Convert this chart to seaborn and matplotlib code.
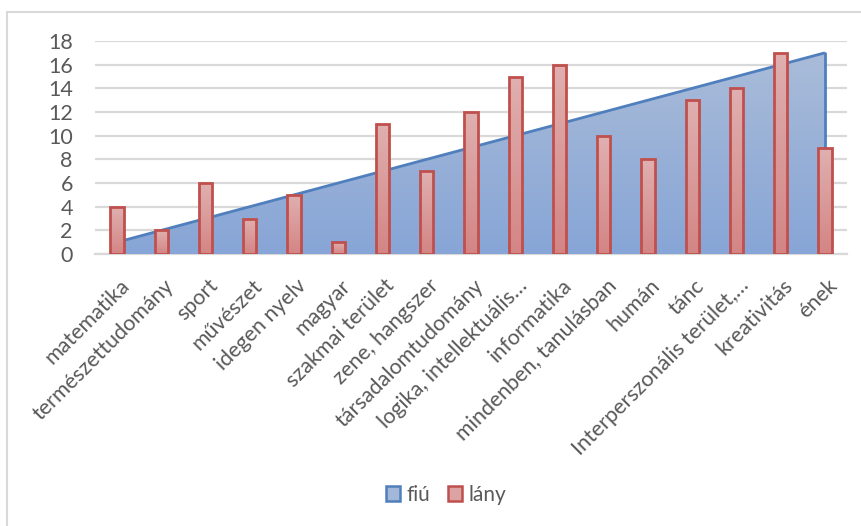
import matplotlib
matplotlib.use("Agg")
import matplotlib.pyplot as plt
import matplotlib.transforms as mtransforms
from matplotlib.patches import Rectangle, Patch
from matplotlib.colors import LinearSegmentedColormap
import numpy as np
import pandas as pd
import seaborn as sns

categories = [
    "matematika", "természettudomány", "sport", "művészet", "idegen nyelv",
    "magyar", "szakmai terület", "zene, hangszer", "társadalomtudomány",
    "logika, intellektuális…", "informatika", "mindenben, tanulásban",
    "humán", "tánc", "Interperszonális terület,…", "kreativitás", "ének",
]
fiu = [1, 2, 3, 4, 5, 6, 7, 8, 9, 10, 11, 12, 13, 14, 15, 16, 17]
lany = [4, 2, 6, 3, 5, 1, 11, 7, 12, 15, 16, 10, 8, 13, 14, 17, 9]
y_ticks = [0, 2, 4, 6, 8, 10, 12, 14, 16, 18]

df = pd.DataFrame({"terület": categories, "fiú": fiu, "lány": lany})

sns.set_theme(style="white")
plt.rcParams["font.family"] = ["Lato", "DejaVu Sans"]

TEXT = "#595959"
GRID = "#d9d9d9"
BLUE_EDGE = "#4f7fbd"
RED_EDGE = "#c0504d"

fig = plt.figure(figsize=(8.62, 5.26), dpi=100)
W, H = 862, 526
ax = fig.add_axes([95 / W, 1 - 254 / H, (847 - 95) / W, (254 - 41) / H])

x = np.arange(len(categories))

# area series (fiú) with a vertical gradient fill
area = ax.fill_between(x, df["fiú"], 0, color="none", zorder=2)
grad_blue = LinearSegmentedColormap.from_list("b", ["#87a5d6", "#abbdd9"])
img = ax.imshow(np.linspace(0, 1, 256).reshape(-1, 1), cmap=grad_blue,
                extent=[x[0], x[-1], 0, 18], origin="lower", aspect="auto",
                zorder=2, interpolation="bilinear")
img.set_clip_path(area.get_paths()[0], transform=ax.transData)
ax.plot(x, df["fiú"], color=BLUE_EDGE, lw=2, zorder=3, solid_capstyle="butt")
ax.plot([x[-1], x[-1]], [0, fiu[-1]], color=BLUE_EDGE, lw=2, zorder=3)

# column series (lány)
sns.barplot(data=df, x="terület", y="lány", ax=ax, width=0.3,
            color="#d99594", edgecolor=RED_EDGE, linewidth=2, zorder=4,
            saturation=1)
grad_red = LinearSegmentedColormap.from_list("r", ["#d38584", "#e0b0b0"])
for p in list(ax.patches):
    p.set_zorder(5)
    p.set_facecolor("none")
    bx, by, bw, bh = p.get_x(), p.get_y(), p.get_width(), p.get_height()
    im = ax.imshow(np.linspace(0, 1, 256).reshape(-1, 1), cmap=grad_red,
                   extent=[bx, bx + bw, by, by + bh], origin="lower",
                   aspect="auto", zorder=4, interpolation="bilinear")
    im.set_clip_path(p)

ax.set_xlim(-0.5, len(categories) - 0.5)
ax.set_ylim(0, 18)
ax.set_yticks(y_ticks)
ax.yaxis.grid(True, color=GRID, lw=1.6, zorder=0)
ax.set_axisbelow(True)
for s in ["top", "right", "left"]:
    ax.spines[s].set_visible(False)
ax.spines["bottom"].set_color(GRID)
ax.spines["bottom"].set_linewidth(1.6)
ax.spines["bottom"].set_zorder(1)
ax.set_xlabel("")
ax.set_ylabel("")

ax.tick_params(axis="y", length=0, pad=16, labelsize=15.5, labelcolor=TEXT)
ax.tick_params(axis="x", length=0, pad=15.5, labelsize=15.5, labelcolor=TEXT)
ax.set_xticks(x)
ax.set_xticklabels(categories, rotation=45, ha="right", va="top",
                   rotation_mode="anchor")
offset = mtransforms.ScaledTranslation(2 / 100, 0, fig.dpi_scale_trans)
for lab in ax.get_xticklabels():
    lab.set_transform(lab.get_transform() + offset)

# legend
handles = [
    Patch(facecolor="#a3b7d8", edgecolor=BLUE_EDGE, linewidth=1.8, label="fiú"),
    Patch(facecolor="#dba3a3", edgecolor=RED_EDGE, linewidth=1.8, label="lány"),
]
fig.legend(handles=handles, loc="center", ncol=2,
           bbox_to_anchor=(446 / W, 1 - 495 / H), frameon=False,
           fontsize=15, labelcolor=TEXT, handlelength=0.7, handleheight=0.7,
           handletextpad=0.3, columnspacing=0.85)

# chart frame
fig.add_artist(Rectangle((7.5 / W, -0.05), 1.0, 1 - 11.5 / H + 0.05,
                         transform=fig.transFigure, fill=False,
                         edgecolor="#d9d9d9", lw=1.5))

fig.savefig("out.png", dpi=100, facecolor="white")
